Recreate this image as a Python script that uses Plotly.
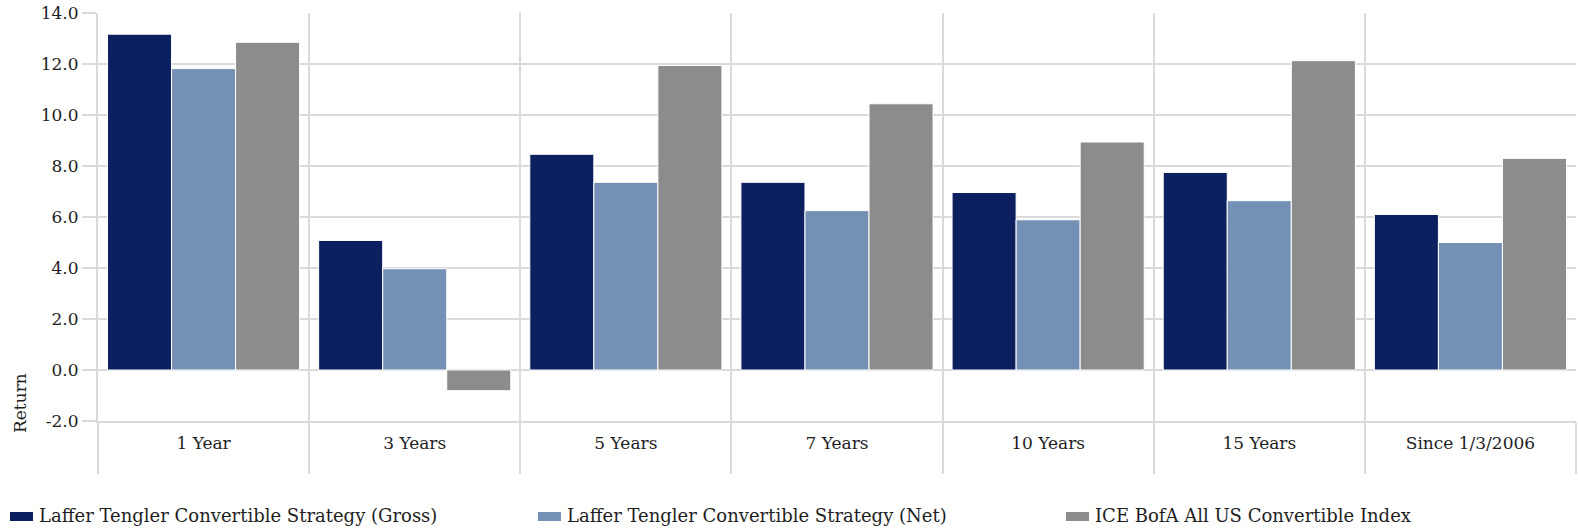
import plotly.graph_objects as go

# Annualised returns by period
periods = ["1 Year", "3 Years", "5 Years", "7 Years", "10 Years", "15 Years", "Since 1/3/2006"]
gross = [13.17, 5.08, 8.46, 7.36, 6.96, 7.75, 6.10]
net = [11.82, 3.97, 7.36, 6.25, 5.89, 6.64, 5.00]
index_ret = [12.85, -0.81, 11.94, 10.44, 8.94, 12.13, 8.30]

series_names = [
    "Laffer Tengler Convertible Strategy (Gross)",
    "Laffer Tengler Convertible Strategy (Net)",
    "ICE BofA All US Convertible Index",
]
series_colors = ["#0c1f5e", "#7490b5", "#8c8c8c"]
y_ticks = [-2, 0, 2, 4, 6, 8, 10, 12, 14]

W, H = 1578, 531
M_L, M_R, M_T, M_B = 98, 2, 13, 110
PLOT_W = W - M_L - M_R
PLOT_H = H - M_T - M_B
GRID = "#dadada"
TEXT = "#1e1e1e"
SERIF = "DejaVu Serif, Georgia, serif"
FONT_SIZE = 17
LEGEND_SIZE = 18


def paper_x(px):
    return (px - M_L) / PLOT_W


def paper_y(py):
    return (H - M_B - py) / PLOT_H


fig = go.Figure()
for name, vals, color in zip(series_names, [gross, net, index_ret], series_colors):
    fig.add_trace(go.Bar(
        x=periods, y=vals, name=name,
        marker=dict(color=color, line=dict(color="white", width=1)),
        showlegend=False,
    ))

# Legend row along the bottom: wide swatch followed by the series name
legend_swatch_x = [10, 538, 1066]
swatch_w, swatch_top, swatch_bot = 23, 512, 521
shapes = []
annotations = []
for name, color, sx in zip(series_names, series_colors, legend_swatch_x):
    shapes.append(dict(
        type="rect", xref="paper", yref="paper",
        x0=paper_x(sx), x1=paper_x(sx + swatch_w),
        y0=paper_y(swatch_bot), y1=paper_y(swatch_top),
        fillcolor=color, line=dict(width=0),
    ))
    annotations.append(dict(
        text=name, showarrow=False, xref="paper", yref="paper",
        x=paper_x(sx + swatch_w + 4), y=paper_y(515),
        xanchor="left", yanchor="middle",
        font=dict(family=SERIF, size=LEGEND_SIZE, color=TEXT),
    ))

annotations.append(dict(
    text="Return", textangle=-90, showarrow=False,
    xref="paper", yref="paper", x=paper_x(20), y=paper_y(403),
    xanchor="center", yanchor="middle",
    font=dict(family=SERIF, size=FONT_SIZE, color=TEXT),
))

fig.update_layout(
    width=W, height=H,
    margin=dict(l=M_L, r=M_R, t=M_T, b=M_B),
    paper_bgcolor="white", plot_bgcolor="white",
    barmode="group", bargap=0.09, bargroupgap=0,
    showlegend=False,
    xaxis=dict(
        type="category", range=[-0.5, len(periods) - 0.5],
        tickson="boundaries", ticks="outside", ticklen=51, tickwidth=2, tickcolor=GRID,
        showgrid=True, gridcolor=GRID, gridwidth=2,
        showline=True, linecolor=GRID, linewidth=2,
        tickfont=dict(family=SERIF, size=FONT_SIZE, color=TEXT),
        ticklabelstandoff=6,
        zeroline=False,
    ),
    yaxis=dict(
        range=[-2, 14], tickvals=y_ticks, ticktext=[f"{v:.1f}" for v in y_ticks],
        ticks="outside", ticklen=14, tickwidth=2, tickcolor=GRID,
        showgrid=True, gridcolor=GRID, gridwidth=2,
        showline=True, linecolor=GRID, linewidth=2,
        tickfont=dict(family=SERIF, size=FONT_SIZE, color=TEXT),
        zeroline=False,
    ),
    shapes=shapes,
    annotations=annotations,
)

fig.write_html("out.html")
